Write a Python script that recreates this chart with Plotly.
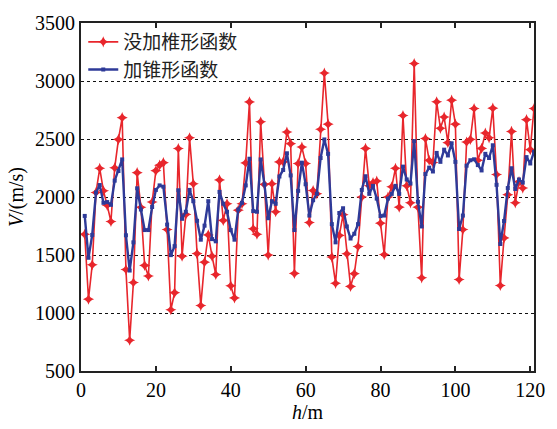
import plotly.graph_objects as go

h = list(range(1, 122))

v_no_taper = [
    1679, 1119, 1416, 2039, 2247, 2053, 1928, 1789, 2252, 2496,
    2684, 1374, 765, 1263, 2210, 1911, 1410, 1319, 1956, 2227,
    2274, 2296, 1720, 1028, 1175, 2418, 1490, 1850, 2510, 2114,
    1512, 1064, 1438, 1673, 1490, 1332, 2147, 1798, 1942, 1235,
    1130, 1886, 1942, 2294, 2820, 1726, 1679, 2648, 2108, 1499,
    2114, 1873, 2302, 2302, 2560, 2460, 1341, 2288, 2430, 2289,
    1780, 2055, 2027, 2584, 3069, 2628, 1482, 1256, 1669, 1848,
    1510, 1229, 1339, 1573, 2000, 2419, 2096, 2124, 2138, 1774,
    1504, 2000, 2088, 2248, 1912, 2702, 2096, 1950, 3150, 1912,
    1303, 2504, 2317, 2297, 2821, 2592, 2689, 2468, 2835, 2628,
    1289, 1719, 2474, 2496, 2763, 2317, 2419, 2551, 2510, 2766,
    2193, 1237, 1647, 2020, 2565, 1950, 2132, 2077, 2667, 2408,
    2763,
]

v_taper = [
    1837, 1476, 1673, 2039, 2103, 1950, 1956, 1933, 2141, 2224,
    2324, 1670, 1366, 1609, 2075, 1892, 1715, 1715, 1914, 2061,
    2100, 2089, 1762, 1499, 1576, 2058, 1812, 1873, 2061, 1964,
    1795, 1632, 1753, 1964, 1637, 1618, 2044, 1942, 1873, 1715,
    1632, 1892, 1950, 2100, 2330, 1878, 1873, 2324, 2108, 1817,
    1964, 1942, 2177, 2233, 2377, 2186, 1715, 2053, 2296, 2110,
    1840, 1972, 2027, 2336, 2496, 2372, 1766, 1609, 1862, 1903,
    1746, 1642, 1683, 1766, 2061, 2179, 2027, 2096, 1986, 1835,
    1840, 1986, 2027, 2096, 2027, 2262, 2151, 2116, 2482, 1959,
    1746, 2198, 2253, 2220, 2380, 2303, 2408, 2358, 2463, 2303,
    1724, 1840, 2270, 2317, 2325, 2275, 2229, 2372, 2336, 2446,
    2105, 1595, 1793, 2077, 2248, 2069, 2151, 2124, 2344, 2289,
    2391,
]

names = ["没加椎形函数", "加锥形函数"]
x_ticks = [0, 20, 40, 60, 80, 100, 120]
y_ticks = [500, 1000, 1500, 2000, 2500, 3000, 3500]

fig = go.Figure()
fig.add_trace(go.Scatter(
    x=h, y=v_no_taper, name=names[0], mode="lines+markers",
    line=dict(color="#E8262C", width=1.6),
    marker=dict(symbol="star-diamond", size=8, color="#E8262C"),
))
fig.add_trace(go.Scatter(
    x=h, y=v_taper, name=names[1], mode="lines+markers",
    line=dict(color="#2E3A98", width=2.4),
    marker=dict(symbol="square", size=4, color="#2E3A98"),
))

serif = "Liberation Serif"
fig.update_layout(
    width=557, height=429,
    margin=dict(l=81, r=20, t=19, b=49),
    paper_bgcolor="white", plot_bgcolor="white",
    font=dict(family=serif, size=20, color="black"),
    showlegend=True,
    legend=dict(
        x=0.005, y=1.0, xanchor="left", yanchor="top",
        bgcolor="rgba(255,255,255,0)", borderwidth=0,
        font=dict(family="Noto Sans CJK SC", size=19, color="#222"),
        itemwidth=30, tracegroupgap=0,
    ),
    xaxis=dict(
        range=[0, 121], tickvals=x_ticks, ticktext=[str(t) for t in x_ticks],
        showgrid=False, zeroline=False,
        showline=True, linecolor="#222", linewidth=2, mirror="allticks",
        ticks="inside", ticklen=5, tickcolor="#222", tickwidth=1.5,
        tickfont=dict(family=serif, size=20),
        title=dict(text="<i>h</i>/m", font=dict(family=serif, size=20), standoff=2),
    ),
    yaxis=dict(
        range=[500, 3500], tickvals=y_ticks, ticktext=[str(t) for t in y_ticks],
        showgrid=True, gridcolor="#111", gridwidth=1.3, griddash="dot",
        zeroline=False,
        showline=True, linecolor="#222", linewidth=2, mirror=True,
        ticks="", tickfont=dict(family=serif, size=20),
        title=dict(text="<i>V</i>/(m/s)", font=dict(family=serif, size=20), standoff=6),
    ),
)

fig.write_html("out.html")
